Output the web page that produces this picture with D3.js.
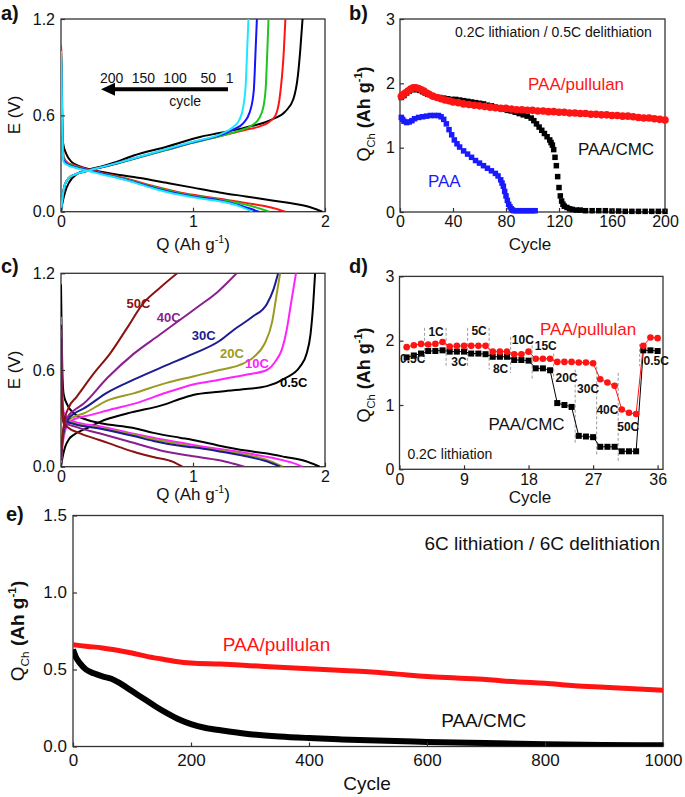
<!DOCTYPE html>
<html><head><meta charset="utf-8">
<script src="https://cdn.jsdelivr.net/npm/d3@7"></script>
<style>body{margin:0;background:#fff;} svg{font-family:"Liberation Sans",Arial,sans-serif;}</style>
</head><body><svg id="chart" width="685" height="797"></svg>
<script>
// ---------- Panel a: voltage profiles at cycles 1..200 (Q, E) ----------
const aCycles = ["1", "50", "100", "150", "200"];
const aDischarge1 = [[0,0.62],[0.005,0.5],[0.015,0.43],[0.04,0.36],[0.08,0.31],[0.15,0.28],[0.2,0.268],[0.4,0.235],[0.6,0.21],[0.8,0.18],[1.0,0.15],[1.2,0.12],[1.4,0.095],[1.6,0.07],[1.8,0.045],[1.9,0.025],[1.98,0]];
const aDischarge50 = [[0,1.04],[0.004,0.95],[0.01,0.6],[0.02,0.34],[0.05,0.305],[0.1,0.29],[0.2,0.265],[0.3,0.245],[0.5,0.205],[0.7,0.16],[0.9,0.12],[1.0,0.105],[1.2,0.08],[1.4,0.055],[1.6,0.025],[1.70,0]];
const aDischarge100 = [[0,1.0],[0.004,0.9],[0.01,0.55],[0.02,0.33],[0.05,0.3],[0.1,0.285],[0.2,0.26],[0.3,0.24],[0.5,0.2],[0.7,0.155],[0.9,0.115],[1.0,0.1],[1.2,0.075],[1.4,0.045],[1.58,0]];
const aDischarge150 = [[0,0.98],[0.004,0.88],[0.01,0.5],[0.02,0.32],[0.05,0.295],[0.1,0.28],[0.2,0.26],[0.3,0.24],[0.5,0.197],[0.7,0.15],[0.9,0.11],[1.0,0.095],[1.2,0.07],[1.35,0.04],[1.5,0]];
const aDischarge200 = [[0,1.0],[0.004,0.9],[0.01,0.5],[0.02,0.31],[0.05,0.29],[0.1,0.275],[0.2,0.255],[0.3,0.235],[0.5,0.195],[0.7,0.145],[0.9,0.105],[1.0,0.09],[1.2,0.065],[1.35,0.035],[1.45,0]];
const aCharge1 = [[0,0],[0.01,0.05],[0.03,0.12],[0.06,0.18],[0.12,0.235],[0.2,0.26],[0.3,0.28],[0.4,0.305],[0.55,0.35],[0.8,0.405],[1.06,0.467],[1.2,0.49],[1.4,0.525],[1.6,0.575],[1.7,0.625],[1.76,0.7],[1.795,0.85],[1.812,1.0],[1.83,1.2]];
const aCharge50 = [[0,0],[0.01,0.08],[0.03,0.17],[0.06,0.21],[0.1,0.23],[0.2,0.255],[0.3,0.275],[0.4,0.295],[0.6,0.34],[0.8,0.385],[1.0,0.43],[1.2,0.47],[1.3,0.49],[1.4,0.51],[1.5,0.53],[1.57,0.555],[1.625,0.6],[1.655,0.7],[1.675,0.85],[1.688,1.0],[1.70,1.2]];
const aCharge100 = [[0,0],[0.01,0.08],[0.03,0.17],[0.06,0.21],[0.1,0.23],[0.2,0.255],[0.3,0.275],[0.4,0.295],[0.6,0.34],[0.8,0.385],[1.0,0.43],[1.2,0.47],[1.35,0.505],[1.45,0.54],[1.5,0.58],[1.535,0.66],[1.553,0.8],[1.563,1.0],[1.572,1.2]];
const aCharge150 = [[0,0],[0.01,0.08],[0.03,0.17],[0.06,0.21],[0.1,0.23],[0.2,0.255],[0.3,0.275],[0.4,0.297],[0.6,0.342],[0.8,0.388],[1.0,0.433],[1.2,0.475],[1.3,0.51],[1.38,0.55],[1.43,0.62],[1.46,0.75],[1.474,1.0],[1.484,1.2]];
const aCharge200 = [[0,0],[0.01,0.08],[0.03,0.17],[0.06,0.21],[0.1,0.23],[0.2,0.255],[0.3,0.276],[0.4,0.298],[0.6,0.344],[0.8,0.39],[1.0,0.436],[1.2,0.48],[1.3,0.525],[1.35,0.57],[1.38,0.65],[1.40,0.8],[1.41,1.0],[1.42,1.2]];
const aArrowLabels = ["200", "150", "100", "50", "1"];
const aArrowLabelQ = [0.384, 0.624, 0.864, 1.116, 1.277];

// ---------- Panel b: cycling at 0.2C/0.5C ----------
const bPullulanCycle = [1,2,4,6,8,10,12,14,16,18,20,22,25,28,31,34,37,40,44,48,52,56,60,64,68,72,76,80,84,88,92,96,100,104,108,112,116,120,124,128,132,136,140,144,148,152,156,160,164,168,172,176,180,184,188,192,196,200];
const bPullulanQ = [1.80,1.82,1.85,1.88,1.91,1.93,1.93,1.92,1.90,1.88,1.85,1.83,1.80,1.78,1.76,1.74,1.73,1.71,1.70,1.68,1.67,1.66,1.65,1.64,1.63,1.62,1.61,1.61,1.60,1.59,1.59,1.58,1.58,1.57,1.57,1.56,1.56,1.55,1.55,1.54,1.54,1.53,1.53,1.52,1.52,1.51,1.51,1.50,1.50,1.49,1.49,1.48,1.47,1.46,1.46,1.45,1.44,1.43];
const bCmcCycle = [1,3,5,7,9,11,13,15,17,19,21,24,27,30,33,36,39,42,45,48,51,54,57,60,63,66,69,72,75,78,81,84,87,90,93,96,99,101,103,105,107,109,111,113,114,115,116,117,118,119,120,121,122,123,124,126,128,130,133,136,140,145,150,155,160,165,170,175,180,185,190,195,200];
const bCmcQ = [1.78,1.81,1.85,1.88,1.90,1.91,1.90,1.89,1.87,1.85,1.83,1.81,1.79,1.78,1.77,1.76,1.75,1.75,1.74,1.73,1.72,1.71,1.70,1.69,1.68,1.66,1.65,1.63,1.62,1.60,1.58,1.57,1.55,1.53,1.51,1.49,1.46,1.42,1.37,1.32,1.27,1.22,1.17,1.12,1.08,1.04,0.97,0.85,0.72,0.55,0.38,0.25,0.17,0.12,0.09,0.07,0.05,0.04,0.03,0.03,0.02,0.02,0.02,0.02,0.015,0.015,0.01,0.01,0.01,0.01,0.01,0.01,0.01];
const bPaaCycle = [1,2,3,5,7,9,11,14,17,20,23,26,29,31,33,35,37,39,41,43,45,48,51,54,57,60,63,66,69,72,74,76,77,78,79,80,81,82,83,84,85,86,88,90,92,94,96,98,100,102];
const bPaaQ = [1.47,1.44,1.41,1.39,1.40,1.42,1.45,1.47,1.48,1.49,1.50,1.50,1.50,1.48,1.44,1.37,1.28,1.20,1.12,1.06,1.01,0.95,0.90,0.85,0.80,0.76,0.72,0.68,0.64,0.60,0.56,0.50,0.45,0.40,0.32,0.25,0.18,0.12,0.08,0.05,0.03,0.02,0.02,0.02,0.02,0.02,0.02,0.02,0.02,0.02];

// ---------- Panel c: rate capability profiles (Q, E) ----------
const cRates = ["0.5C", "10C", "20C", "30C", "40C", "50C"];
const cLabelQ = [1.659, 1.394, 1.205, 0.990, 0.725, 0.497];
const cLabelE = [0.497, 0.611, 0.673, 0.787, 0.900, 0.985];
const cDischarge05 = [[0,1.13],[0.004,0.9],[0.01,0.6],[0.02,0.45],[0.05,0.38],[0.1,0.33],[0.2,0.29],[0.3,0.27],[0.55,0.24],[0.7,0.21],[0.9,0.18],[1.0,0.166],[1.2,0.13],[1.4,0.1],[1.55,0.083],[1.7,0.06],[1.85,0.035],[1.96,0]];
const cDischarge10 = [[0,0.93],[0.004,0.7],[0.01,0.45],[0.02,0.34],[0.05,0.3],[0.1,0.28],[0.3,0.25],[0.55,0.205],[0.7,0.18],[0.9,0.15],[1.0,0.135],[1.2,0.11],[1.4,0.085],[1.6,0.055],[1.75,0.025],[1.83,0]];
const cDischarge20 = [[0,0.9],[0.004,0.65],[0.01,0.42],[0.02,0.32],[0.05,0.29],[0.1,0.27],[0.3,0.24],[0.55,0.198],[0.7,0.17],[0.9,0.14],[1.0,0.125],[1.2,0.1],[1.4,0.075],[1.55,0.045],[1.68,0]];
const cDischarge30 = [[0,0.88],[0.004,0.6],[0.01,0.4],[0.02,0.31],[0.05,0.28],[0.1,0.265],[0.3,0.235],[0.55,0.19],[0.7,0.16],[0.9,0.13],[1.0,0.12],[1.2,0.095],[1.4,0.065],[1.55,0.035],[1.66,0]];
const cDischarge40 = [[0,0.85],[0.004,0.55],[0.01,0.36],[0.02,0.29],[0.05,0.265],[0.1,0.25],[0.29,0.207],[0.5,0.16],[0.8,0.093],[1.0,0.065],[1.2,0.04],[1.3,0.02],[1.39,0]];
const cDischarge50 = [[0,0.8],[0.004,0.5],[0.01,0.32],[0.02,0.27],[0.05,0.245],[0.15,0.205],[0.29,0.166],[0.45,0.12],[0.55,0.093],[0.7,0.06],[0.85,0.03],[0.92,0]];
const cCharge05 = [[0,0],[0.01,0.05],[0.03,0.12],[0.06,0.17],[0.1,0.2],[0.2,0.24],[0.3,0.28],[0.5,0.33],[0.8,0.39],[0.9,0.42],[1.0,0.445],[1.2,0.465],[1.4,0.482],[1.56,0.5],[1.7,0.55],[1.81,0.62],[1.86,0.7],[1.89,0.82],[1.91,1.0],[1.925,1.2]];
const cCharge10 = [[0,0.02],[0.01,0.12],[0.03,0.22],[0.06,0.27],[0.1,0.295],[0.22,0.32],[0.4,0.36],[0.55,0.39],[0.8,0.46],[1.0,0.51],[1.2,0.54],[1.4,0.57],[1.56,0.6],[1.63,0.66],[1.67,0.72],[1.71,0.85],[1.74,1.0],[1.78,1.2]];
const cCharge20 = [[0,0.03],[0.01,0.14],[0.03,0.24],[0.06,0.29],[0.1,0.31],[0.17,0.33],[0.35,0.41],[0.55,0.455],[0.8,0.52],[1.0,0.56],[1.2,0.6],[1.35,0.63],[1.46,0.68],[1.54,0.76],[1.6,0.9],[1.63,1.05],[1.66,1.2]];
const cCharge30 = [[0,0.04],[0.01,0.15],[0.03,0.25],[0.06,0.3],[0.1,0.33],[0.17,0.36],[0.35,0.46],[0.55,0.54],[0.8,0.63],[1.0,0.7],[1.2,0.78],[1.31,0.85],[1.45,0.93],[1.56,1.01],[1.61,1.1],[1.645,1.2]];
const cCharge40 = [[0,0.05],[0.01,0.17],[0.03,0.27],[0.06,0.32],[0.1,0.35],[0.17,0.39],[0.35,0.55],[0.55,0.7],[0.75,0.82],[0.9,0.91],[1.05,1.0],[1.18,1.08],[1.33,1.2]];
const cCharge50 = [[0,0.06],[0.01,0.18],[0.03,0.3],[0.06,0.37],[0.12,0.435],[0.25,0.58],[0.37,0.7],[0.5,0.86],[0.62,1.01],[0.75,1.11],[0.88,1.2]];

// ---------- Panel d: rate test ----------
const dCycle = [1,2,3,4,5,6,7,8,9,10,11,12,13,14,15,16,17,18,19,20,21,22,23,24,25,26,27,28,29,30,31,32,33,34,35,36];
const dPullulanQ = [1.90,1.93,1.95,1.94,1.95,1.98,1.91,1.92,1.92,1.92,1.92,1.92,1.83,1.83,1.83,1.79,1.79,1.83,1.72,1.72,1.72,1.67,1.67,1.67,1.66,1.66,1.65,1.40,1.35,1.30,0.93,0.88,0.86,1.92,2.05,2.04];
const dCmcQ = [1.74,1.77,1.80,1.84,1.84,1.85,1.83,1.83,1.83,1.80,1.80,1.79,1.75,1.75,1.75,1.70,1.70,1.69,1.57,1.57,1.54,1.03,1.00,0.97,0.52,0.51,0.50,0.35,0.35,0.35,0.28,0.28,0.28,1.85,1.85,1.84];
const dRateLabels = ["0.5C","1C","3C","5C","8C","10C","15C","20C","30C","40C","50C","0.5C"];
const dRateLabelCycle = [1.85,5.1,8.3,11.1,14.1,17.2,20.4,23.3,26.3,29.0,31.9,35.8];
const dRateLabelQ = [1.65,2.08,1.60,2.09,1.50,1.95,1.86,1.36,1.19,0.86,0.60,1.62];
const dDashCycle = [3.5,6.5,9.5,12.5,15.5,18.5,21.5,24.5,27.5,30.5,33.5];
const dDashTop = [2.2,2.2,2.2,2.2,2.06,2.08,1.8,1.55,1.6,1.5,1.95];
const dDashBottom = [1.72,1.6,1.6,1.55,1.5,1.4,1.4,0.4,0.2,0.12,1.6];

// ---------- Panel e: long cycling at 6C ----------
const ePullulanCycle = [0,25,50,75,100,125,150,175,200,250,300,350,400,450,500,550,600,650,700,750,800,850,900,950,1000];
const ePullulanQ = [0.66,0.65,0.64,0.625,0.607,0.585,0.568,0.552,0.542,0.535,0.525,0.515,0.505,0.495,0.485,0.47,0.455,0.445,0.435,0.42,0.41,0.395,0.385,0.375,0.365];
const eCmcCycle = [0,5,12,22,35,50,65,80,100,120,140,160,180,200,225,250,300,350,400,450,500,600,700,800,900,1000];
const eCmcQ = [0.63,0.58,0.54,0.50,0.475,0.455,0.44,0.41,0.36,0.31,0.26,0.215,0.175,0.145,0.12,0.105,0.08,0.065,0.055,0.047,0.04,0.03,0.022,0.015,0.01,0.008];

// ================= drawing =================
const svg = d3.select("#chart");
let clipN = 0;
const frameColor = "#333";

function panel(box, xDom, yDom, xTicks, yTicks, xFmt, yFmt, fs, xPad, yPad) {
  const x = d3.scaleLinear().domain(xDom).range([box.l, box.r]);
  const y = d3.scaleLinear().domain(yDom).range([box.b, box.t]);
  const g = svg.append("g");
  const id = "clip" + (clipN++);
  svg.append("clipPath").attr("id", id).append("rect")
    .attr("x", box.l).attr("y", box.t).attr("width", box.r - box.l).attr("height", box.b - box.t);
  g.append("rect").attr("x", box.l).attr("y", box.t).attr("width", box.r - box.l).attr("height", box.b - box.t)
    .attr("fill", "none").attr("stroke", frameColor).attr("stroke-width", 1.3);
  const plot = g.append("g").attr("clip-path", `url(#${id})`);
  const over = g.append("g");
  const xa = g.append("g").attr("transform", `translate(0,${box.b})`)
    .call(d3.axisBottom(x).tickValues(xTicks).tickFormat(xFmt).tickSizeInner(-4).tickSizeOuter(0).tickPadding(xPad));
  const ya = g.append("g").attr("transform", `translate(${box.l},0)`)
    .call(d3.axisLeft(y).tickValues(yTicks).tickFormat(yFmt).tickSizeInner(-4).tickSizeOuter(0).tickPadding(yPad));
  [xa, ya].forEach(a => {
    a.select(".domain").remove();
    a.selectAll(".tick line").attr("stroke", frameColor).attr("stroke-width", 1.2);
    a.selectAll(".tick text").attr("font-size", fs).attr("fill", "#111").attr("font-family", "Liberation Sans, Arial, sans-serif");
  });
  return { x, y, g, plot, over };
}

function qLabel(x, y, fs, bold) {
  const t = svg.append("text").attr("transform", `translate(${x},${y}) rotate(-90)`)
    .attr("text-anchor", "middle").attr("font-size", fs).attr("fill", "#111");
  t.append("tspan").text("Q");
  t.append("tspan").attr("dy", fs * 0.28).attr("font-size", fs * 0.62).text("Ch");
  t.append("tspan").attr("dy", -fs * 0.28).attr("font-weight", bold ? "bold" : "normal").text(" (Ah g");
  t.append("tspan").attr("dy", -fs * 0.42).attr("font-size", fs * 0.62).attr("font-weight", bold ? "bold" : "normal").text("-1");
  t.append("tspan").attr("dy", fs * 0.42).attr("font-weight", bold ? "bold" : "normal").text(")");
}
function qahLabel(x, y, fs) {
  const t = svg.append("text").attr("x", x).attr("y", y).attr("text-anchor", "middle").attr("font-size", fs).attr("fill", "#111");
  t.append("tspan").text("Q (Ah g");
  t.append("tspan").attr("dy", -fs * 0.42).attr("font-size", fs * 0.62).text("-1");
  t.append("tspan").attr("dy", fs * 0.42).text(")");
}
function plainLabel(x, y, fs, txt, rot) {
  const t = svg.append("text").attr("text-anchor", "middle").attr("font-size", fs).attr("fill", "#111").text(txt);
  if (rot) t.attr("transform", `translate(${x},${y}) rotate(-90)`); else t.attr("x", x).attr("y", y);
}
function panelLetter(x, y, txt) {
  svg.append("text").attr("x", x).attr("y", y).attr("font-size", 20).attr("font-weight", "bold").attr("fill", "#111").text(txt);
}

const fmt1 = d3.format(".1f"), fmt0 = d3.format("d");

// ---------- a ----------
{
  const P = panel({ l: 61, r: 325, t: 19, b: 211.7 }, [0, 2], [0, 1.2], [0, 1, 2], [0, 0.6, 1.2], fmt0, fmt1, 16, 4, 6);
  const line = d3.line().x(d => P.x(d[0])).y(d => P.y(d[1])).curve(d3.curveMonotoneX);
  const aColors = ["#000000", "#ff1414", "#1fc41f", "#1414ff", "#1ee6ff"];
  const dis = [aDischarge1, aDischarge50, aDischarge100, aDischarge150, aDischarge200];
  const ch = [aCharge1, aCharge50, aCharge100, aCharge150, aCharge200];
  aCycles.forEach((c, i) => {
    P.plot.append("path").attr("d", line(dis[i])).attr("fill", "none").attr("stroke", aColors[i]).attr("stroke-width", 2);
    P.plot.append("path").attr("d", line(ch[i])).attr("fill", "none").attr("stroke", aColors[i]).attr("stroke-width", 2);
  });
  // arrow annotation
  const ay = P.y(0.762);
  P.over.append("line").attr("x1", P.x(1.265)).attr("x2", P.x(0.39)).attr("y1", ay).attr("y2", ay)
    .attr("stroke", "#000").attr("stroke-width", 4);
  const tip = P.x(0.303);
  P.over.append("path").attr("d", `M${tip},${ay} L${tip + 14},${ay - 6.5} L${tip + 14},${ay + 6.5} Z`).attr("fill", "#000");
  aArrowLabels.forEach((t, i) => {
    P.over.append("text").attr("x", P.x(aArrowLabelQ[i])).attr("y", P.y(0.803)).attr("text-anchor", "middle")
      .attr("font-size", 14).attr("fill", "#111").text(t);
  });
  P.over.append("text").attr("x", P.x(0.94)).attr("y", P.y(0.658)).attr("text-anchor", "middle")
    .attr("font-size", 14).attr("fill", "#111").text("cycle");
  qahLabel(193, 250, 17);
  plainLabel(20, 115, 17, "E (V)", true);
  panelLetter(1, 20, "a)");
}

// ---------- b ----------
{
  const P = panel({ l: 400, r: 665, t: 19, b: 212 }, [0, 200], [0, 3], [0, 40, 80, 120, 160, 200], [0, 1, 2, 3], fmt0, fmt0, 16, 4, 5);
  const sq = 5.5;
  P.over.selectAll(".paa").data(bPaaCycle).join("rect")
    .attr("x", (d, i) => P.x(d) - sq / 2).attr("y", (d, i) => P.y(bPaaQ[i]) - sq / 2)
    .attr("width", sq).attr("height", sq).attr("fill", "#1a1aff");
  P.over.selectAll(".cmc").data(bCmcCycle).join("rect")
    .attr("x", (d, i) => P.x(d) - sq / 2).attr("y", (d, i) => P.y(bCmcQ[i]) - sq / 2)
    .attr("width", sq).attr("height", sq).attr("fill", "#000");
  P.over.selectAll(".pul").data(bPullulanCycle).join("circle")
    .attr("cx", d => P.x(d)).attr("cy", (d, i) => P.y(bPullulanQ[i])).attr("r", 3.8).attr("fill", "#ff1414");
  P.over.append("text").attr("x", P.x(41.5)).attr("y", P.y(2.72)).attr("font-size", 14).attr("fill", "#111")
    .text("0.2C lithiation / 0.5C delithiation");
  P.over.append("text").attr("x", P.x(96.6)).attr("y", P.y(1.90)).attr("font-size", 17).attr("fill", "#ff1414").text("PAA/pullulan");
  P.over.append("text").attr("x", P.x(134.3)).attr("y", P.y(0.88)).attr("font-size", 17).attr("fill", "#111").text("PAA/CMC");
  P.over.append("text").attr("x", P.x(21.1)).attr("y", P.y(0.39)).attr("font-size", 17).attr("fill", "#1a1aff").text("PAA");
  plainLabel(530, 250, 17, "Cycle", false);
  qLabel(370, 114, 18, true);
  panelLetter(349, 20, "b)");
}

// ---------- c ----------
{
  const P = panel({ l: 61, r: 325, t: 273.3, b: 466.7 }, [0, 2], [0, 1.2], [0, 1, 2], [0, 0.6, 1.2], fmt0, fmt1, 16, 4, 6);
  const line = d3.line().x(d => P.x(d[0])).y(d => P.y(d[1])).curve(d3.curveMonotoneX);
  const cColors = ["#000000", "#ff22ff", "#9a9a20", "#1c1c90", "#8a1f8f", "#8b1212"];
  const dis = [cDischarge05, cDischarge10, cDischarge20, cDischarge30, cDischarge40, cDischarge50];
  const ch = [cCharge05, cCharge10, cCharge20, cCharge30, cCharge40, cCharge50];
  cRates.forEach((r, i) => {
    P.plot.append("path").attr("d", line(dis[i])).attr("fill", "none").attr("stroke", cColors[i]).attr("stroke-width", 2);
    P.plot.append("path").attr("d", line(ch[i])).attr("fill", "none").attr("stroke", cColors[i]).attr("stroke-width", 2);
  });
  cRates.forEach((r, i) => {
    P.over.append("text").attr("x", P.x(cLabelQ[i])).attr("y", P.y(cLabelE[i])).attr("font-size", 13)
      .attr("font-weight", "bold").attr("fill", cColors[i]).text(r);
  });
  qahLabel(193, 500, 17);
  plainLabel(20, 370, 17, "E (V)", true);
  panelLetter(1, 273, "c)");
}

// ---------- d ----------
{
  const P = panel({ l: 399.5, r: 663, t: 276.4, b: 469.3 }, [0, 36.75], [0, 3], [0, 9, 18, 27, 36], [0, 1, 2, 3], fmt0, fmt0, 16, 4, 5);
  dDashCycle.forEach((c, i) => {
    P.plot.append("line").attr("x1", P.x(c)).attr("x2", P.x(c)).attr("y1", P.y(dDashTop[i])).attr("y2", P.y(dDashBottom[i]))
      .attr("stroke", "#9a9a9a").attr("stroke-width", 1).attr("stroke-dasharray", "3,2");
  });
  const lineP = d3.line().x((d, i) => P.x(dCycle[i])).y(d => P.y(d));
  P.over.append("path").attr("d", lineP(dCmcQ)).attr("fill", "none").attr("stroke", "#000").attr("stroke-width", 1);
  P.over.append("path").attr("d", lineP(dPullulanQ)).attr("fill", "none").attr("stroke", "#ff1414").attr("stroke-width", 1);
  const sq = 6;
  P.over.selectAll(".cmc").data(dCmcQ).join("rect")
    .attr("x", (d, i) => P.x(dCycle[i]) - sq / 2).attr("y", d => P.y(d) - sq / 2).attr("width", sq).attr("height", sq).attr("fill", "#000");
  P.over.selectAll(".pul").data(dPullulanQ).join("circle")
    .attr("cx", (d, i) => P.x(dCycle[i])).attr("cy", d => P.y(d)).attr("r", 3.3).attr("fill", "#ff1414");
  dRateLabels.forEach((t, i) => {
    P.over.append("text").attr("x", P.x(dRateLabelCycle[i])).attr("y", P.y(dRateLabelQ[i])).attr("text-anchor", "middle")
      .attr("font-size", 12).attr("font-weight", "bold").attr("fill", "#111").text(t);
  });
  P.over.append("text").attr("x", P.x(19.6)).attr("y", P.y(2.09)).attr("font-size", 17).attr("fill", "#ff1414").text("PAA/pullulan");
  P.over.append("text").attr("x", P.x(12.4)).attr("y", P.y(0.61)).attr("font-size", 17).attr("fill", "#111").text("PAA/CMC");
  P.over.append("text").attr("x", P.x(1.1)).attr("y", P.y(0.16)).attr("font-size", 14).attr("fill", "#111").text("0.2C lithiation");
  plainLabel(530, 503, 17, "Cycle", false);
  qLabel(370, 375, 18, true);
  panelLetter(349, 273, "d)");
}

// ---------- e ----------
{
  const P = panel({ l: 73, r: 663, t: 515.5, b: 746.5 }, [0, 1000], [0, 1.5], [0, 200, 400, 600, 800, 1000], [0, 0.5, 1.0, 1.5], fmt0, fmt1, 17, 7, 6);
  const line = d3.line().curve(d3.curveMonotoneX);
  P.plot.append("path").attr("d", line(eCmcCycle.map((c, i) => [P.x(c), P.y(eCmcQ[i])])))
    .attr("fill", "none").attr("stroke", "#000").attr("stroke-width", 6);
  P.plot.append("path").attr("d", line(ePullulanCycle.map((c, i) => [P.x(c), P.y(ePullulanQ[i])])))
    .attr("fill", "none").attr("stroke", "#ff1414").attr("stroke-width", 5);
  P.over.append("text").attr("x", P.x(995)).attr("y", P.y(1.276)).attr("text-anchor", "end").attr("font-size", 19)
    .attr("fill", "#111").text("6C lithiation / 6C delithiation");
  P.over.append("text").attr("x", P.x(254)).attr("y", P.y(0.622)).attr("font-size", 19).attr("fill", "#ff1414").text("PAA/pullulan");
  P.over.append("text").attr("x", P.x(624)).attr("y", P.y(0.127)).attr("font-size", 19).attr("fill", "#111").text("PAA/CMC");
  plainLabel(367, 790, 19, "Cycle", false);
  qLabel(24, 631, 19, true);
  panelLetter(6, 521, "e)");
}
</script></body></html>
